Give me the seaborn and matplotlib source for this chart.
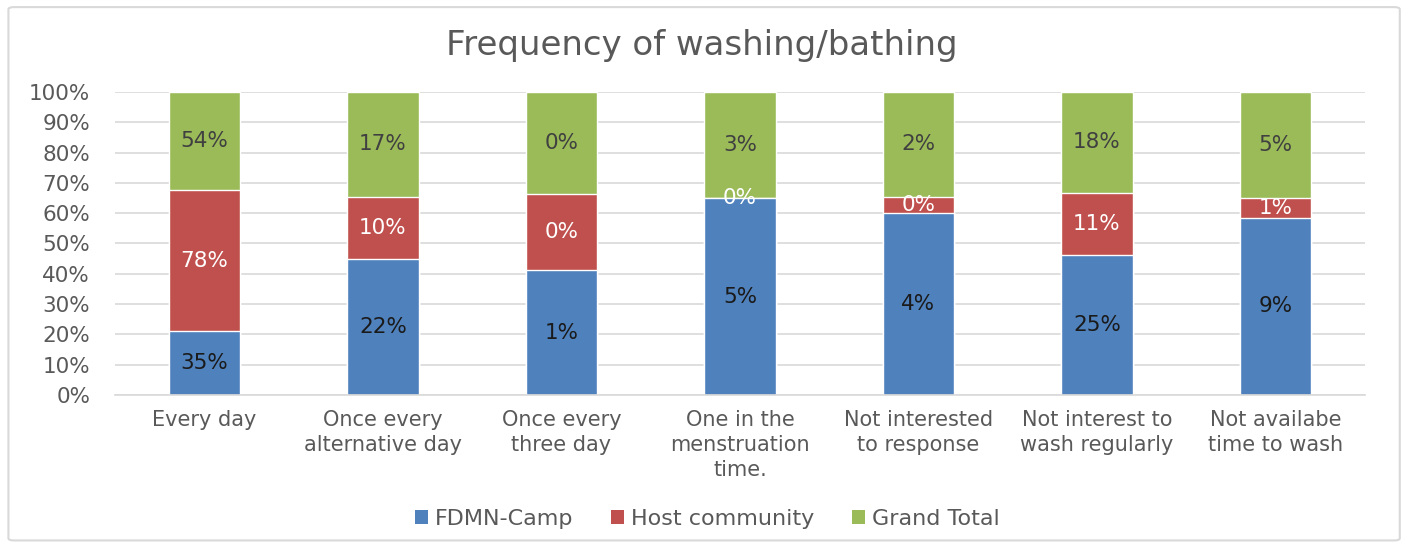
import matplotlib
matplotlib.use("Agg")
import matplotlib.pyplot as plt
from matplotlib.patches import FancyBboxPatch, Patch
from matplotlib.ticker import PercentFormatter
import numpy as np
import pandas as pd
import seaborn as sns

categories = [
    "Every day",
    "Once every\nalternative day",
    "Once every\nthree day",
    "One in the\nmenstruation\ntime.",
    "Not interested\nto response",
    "Not interest to\nwash regularly",
    "Not availabe\ntime to wash",
]
series_names = ["FDMN-Camp", "Host community", "Grand Total"]
fdmn_camp = [35, 22, 0.6, 5, 4, 25, 9]
host_community = [78, 10, 0.37, 0, 0.35, 11, 1]
grand_total = [54, 17, 0.49, 2.7, 2.3, 18, 5.4]
y_ticks = [0, 10, 20, 30, 40, 50, 60, 70, 80, 90, 100]

colors = ["#4F81BD", "#C0504D", "#9BBB59"]
label_colors = ["#1A1A1A", "#FFFFFF", "#404040"]
text_gray = "#595959"

sns.set_theme(style="white")
plt.rcParams["font.family"] = ["DejaVu Sans"]

raw = np.array([fdmn_camp, host_community, grand_total], dtype=float)
share = raw / raw.sum(axis=0) * 100
cum = np.cumsum(share, axis=0)

fig = plt.figure(figsize=(14.04, 5.47), dpi=100)
ax = fig.add_axes([0.082, 0.278, 0.890, 0.554])

# stacked 100% bars: draw the cumulative heights from the top series down
for i in range(2, -1, -1):
    df = pd.DataFrame({"category": categories, "value": cum[i]})
    sns.barplot(data=df, x="category", y="value", color=colors[i],
                width=0.4, saturation=1, ax=ax, zorder=2)

# segment labels show each series' own value
for i in range(3):
    bottoms = cum[i] - share[i]
    for j in range(len(categories)):
        y = bottoms[j] + share[i][j] / 2
        ax.text(j, y, f"{raw[i][j]:.0f}%", ha="center", va="center",
                fontsize=15.5, color=label_colors[i], zorder=5)

ax.set_xlim(-0.5, len(categories) - 0.5)
ax.set_ylim(0, 100)
ax.set_yticks(y_ticks)
ax.yaxis.set_major_formatter(PercentFormatter(decimals=0))
ax.set_xlabel("")
ax.set_ylabel("")
ax.yaxis.grid(True, color="#D9D9D9", linewidth=1.2, zorder=0)
ax.set_axisbelow(True)
for side in ["left", "right", "top"]:
    ax.spines[side].set_visible(False)
ax.spines["bottom"].set_color("#D9D9D9")
ax.spines["bottom"].set_linewidth(1.2)
ax.tick_params(axis="y", length=0, labelsize=15.5, colors=text_gray, pad=18)
ax.tick_params(axis="x", length=0, labelsize=15, colors=text_gray, pad=11)
for lbl in ax.get_xticklabels():
    lbl.set_linespacing(1.31)

fig.text(0.5, 0.917, "Frequency of washing/bathing", ha="center", va="center",
         fontsize=24.5, color=text_gray)

handles = [Patch(facecolor=c, edgecolor="none") for c in colors]
fig.legend(handles, series_names, loc="center", bbox_to_anchor=(0.5036, 0.051),
           ncol=3, frameon=False, fontsize=16, labelcolor=text_gray,
           handlelength=0.6, handleheight=0.6, handletextpad=0.3,
           columnspacing=1.7)

border = FancyBboxPatch((0.006, 0.012), 0.991, 0.975,
                        boxstyle="round,pad=0,rounding_size=0.004",
                        transform=fig.transFigure, facecolor="none",
                        edgecolor="#D9D9D9", linewidth=1.5)
fig.patches.append(border)

fig.savefig("out.png", dpi=100, facecolor="white")
